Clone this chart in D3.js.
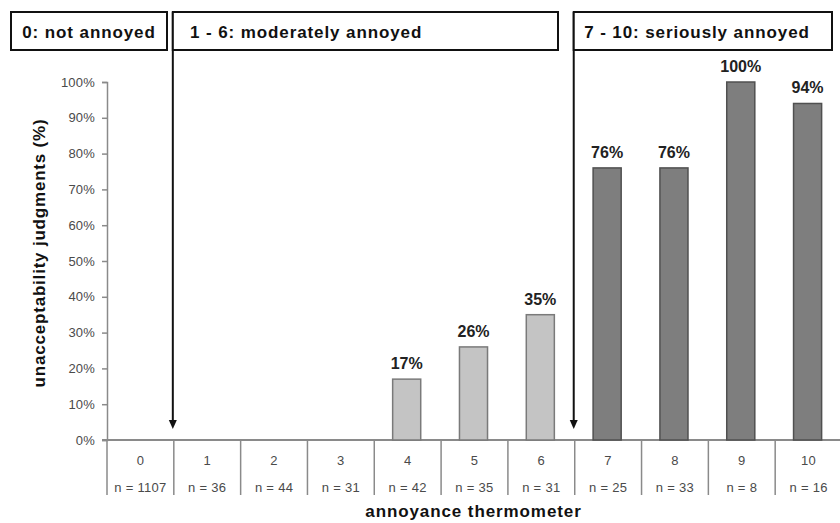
<!DOCTYPE html>
<html>
<head>
<meta charset="utf-8">
<script src="https://cdn.jsdelivr.net/npm/d3@7"></script>
<style>
  html, body { margin: 0; padding: 0; background: #fff; }
  svg { display: block; font-family: "Liberation Sans", Arial, sans-serif; }
</style>
</head>
<body>
<svg id="chart" width="840" height="523"></svg>
<script>
// ---- data ----
const categories = ["0", "1", "2", "3", "4", "5", "6", "7", "8", "9", "10"];
const sampleSizes = ["n = 1107", "n = 36", "n = 44", "n = 31", "n = 42", "n = 35", "n = 31", "n = 25", "n = 33", "n = 8", "n = 16"];
const values = [0, 0, 0, 0, 17, 26, 35, 76, 76, 100, 94];
const groups = ["mod", "mod", "mod", "mod", "mod", "mod", "mod", "ser", "ser", "ser", "ser"];
const yTicks = [0, 10, 20, 30, 40, 50, 60, 70, 80, 90, 100];
const headerLabels = ["0: not annoyed", "1 - 6: moderately annoyed", "7 - 10: seriously annoyed"];
const arrowCategories = ["1", "7"];
const xTitle = "annoyance thermometer";
const yTitle = "unacceptability judgments (%)";

// ---- layout ----
const svg = d3.select("#chart");
const plotL = 107, plotR = 842, plotT = 82, plotB = 440;
const tableBottom = 495;

const x = d3.scaleBand().domain(categories).range([plotL, plotR]).padding(0);
const y = d3.scaleLinear().domain([0, 100]).range([plotB, plotT]);
const barW = x.bandwidth() * 0.42;

const axisColor = "#8a8a8a";

// y axis
const yAxis = d3.axisLeft(y).tickValues(yTicks).tickSize(5).tickPadding(7)
  .tickFormat(d => d + "%");
const gy = svg.append("g").attr("transform", `translate(${plotL},0)`).call(yAxis);
gy.select(".domain").attr("stroke", axisColor).attr("stroke-width", 1.5);
gy.selectAll(".tick line").attr("stroke", axisColor).attr("stroke-width", 1.5);
gy.selectAll(".tick text").attr("fill", "#4a4a4a").attr("font-size", 13)
  .attr("letter-spacing", "0.2px")
  .style("font-family", "'Liberation Sans', Arial, sans-serif");

// baseline
svg.append("line").attr("x1", plotL - 5).attr("x2", plotR).attr("y1", plotB).attr("y2", plotB)
  .attr("stroke", axisColor).attr("stroke-width", 2);

// table dividers
svg.append("g").selectAll("line").data(categories.concat(["__end"])).join("line")
  .attr("x1", d => d === "__end" ? plotR : x(d))
  .attr("x2", d => d === "__end" ? plotR : x(d))
  .attr("y1", plotB).attr("y2", tableBottom)
  .attr("stroke", axisColor).attr("stroke-width", 1.5);

// category labels
const cat = svg.append("g").selectAll("g").data(categories).join("g")
  .attr("transform", d => `translate(${x(d) + x.bandwidth() / 2},0)`);
cat.append("text").attr("y", 465).attr("text-anchor", "middle")
  .attr("font-size", 13).attr("fill", "#4a4a4a").attr("letter-spacing", "0.3px").text(d => d);
cat.append("text").attr("y", 492).attr("text-anchor", "middle")
  .attr("font-size", 13).attr("fill", "#4a4a4a").attr("letter-spacing", "0.3px")
  .text((d, i) => sampleSizes[i]);

// bars
const barData = categories.map((c, i) => ({ c, v: values[i], g: groups[i] })).filter(d => d.v > 0);
svg.append("g").selectAll("rect").data(barData).join("rect")
  .attr("x", d => x(d.c) + x.bandwidth() / 2 - barW / 2 - 1)
  .attr("width", barW)
  .attr("y", d => y(d.v))
  .attr("height", d => plotB - y(d.v))
  .attr("fill", d => d.g === "mod" ? "#c4c4c4" : "#7e7e7e")
  .attr("stroke", d => d.g === "mod" ? "#7a7a7a" : "#505050")
  .attr("stroke-width", 1.5);

// value labels
svg.append("g").selectAll("text").data(barData).join("text")
  .attr("x", d => x(d.c) + x.bandwidth() / 2 - 1)
  .attr("y", d => y(d.v) - 10)
  .attr("text-anchor", "middle")
  .attr("font-size", 16).attr("font-weight", "bold").attr("fill", "#222")
  .text(d => d.v + "%");

// arrows
const arrowX = arrowCategories.map(c => x(c) - 1);
const ag = svg.append("g");
arrowX.forEach(ax => {
  ag.append("line").attr("x1", ax).attr("x2", ax).attr("y1", 12).attr("y2", 421)
    .attr("stroke", "#111").attr("stroke-width", 2);
  ag.append("path").attr("d", `M${ax - 4},420 L${ax + 4},420 L${ax},429 Z`).attr("fill", "#111");
});

// header boxes
const boxes = [
  { x0: 11, x1: 167, tx: 89, anchor: "middle" },
  { x0: arrowX[0], x1: 558, tx: 190, anchor: "start" },
  { x0: arrowX[1], x1: 832, tx: 697, anchor: "middle" }
];
const hg = svg.append("g").selectAll("g").data(boxes).join("g");
hg.append("rect").attr("x", d => d.x0).attr("y", 12)
  .attr("width", d => d.x1 - d.x0).attr("height", 38)
  .attr("fill", "#fff").attr("stroke", "#111").attr("stroke-width", 2);
hg.append("text").attr("x", d => d.tx).attr("y", 38)
  .attr("text-anchor", d => d.anchor)
  .attr("font-size", 17).attr("font-weight", "bold").attr("fill", "#111")
  .attr("letter-spacing", "0.9px")
  .text((d, i) => headerLabels[i]);

// axis titles
svg.append("text").attr("x", (plotL + plotR) / 2 - 1).attr("y", 517)
  .attr("text-anchor", "middle").attr("font-size", 17).attr("font-weight", "bold")
  .attr("fill", "#111").attr("letter-spacing", "0.9px").text(xTitle);
svg.append("text").attr("transform", "translate(45,253) rotate(-90)")
  .attr("text-anchor", "middle").attr("font-size", 17).attr("font-weight", "bold")
  .attr("fill", "#111").attr("letter-spacing", "0.8px").text(yTitle);
</script>
</body>
</html>
